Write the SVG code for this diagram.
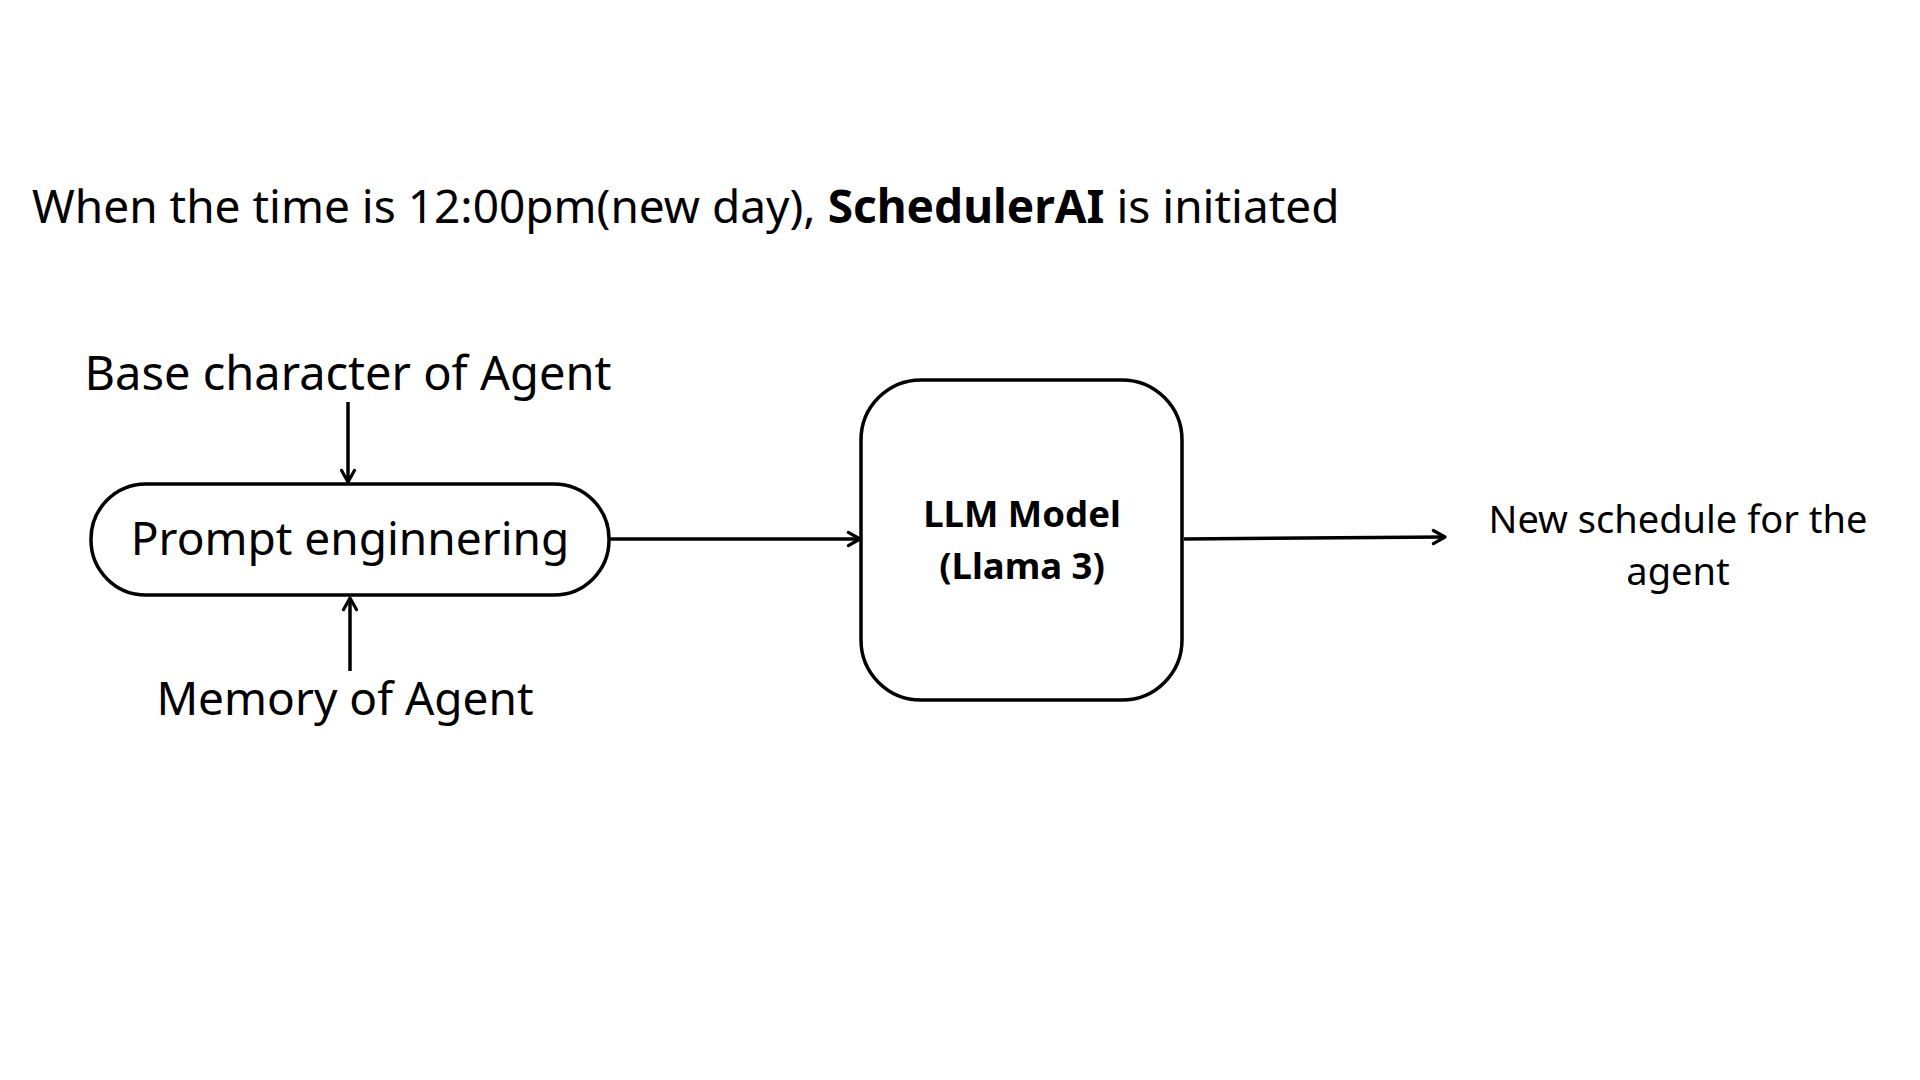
<svg xmlns="http://www.w3.org/2000/svg" width="1920" height="1080" viewBox="0 0 1920 1080">
<defs>
<style>
text{font-family:"Noto Sans","Open Sans","DejaVu Sans",sans-serif;fill:#000}
.shape{fill:#fff;stroke:#000;stroke-width:3.5}
.conn{stroke:#000;stroke-width:3.5;fill:none;marker-end:url(#arr)}
</style>
<marker id="arr" viewBox="0 0 12 12" refX="10" refY="6" markerWidth="5" markerHeight="5" orient="auto" markerUnits="strokeWidth">
<path d="M2,1.5 L10,6 L2,10.5" fill="none" stroke="#000" stroke-width="2.2" stroke-linecap="round" stroke-linejoin="round"/>
</marker>
</defs>
<rect width="1920" height="1080" fill="#fff"/>
<g id="title">
<text x="32" y="223" font-size="46">When the time is 12:00pm(new day), <tspan font-weight="bold">SchedulerAI</tspan> is initiated</text>
</g>
<g id="connectors">
<line class="conn" x1="348" y1="402" x2="348" y2="482"/>
<line class="conn" x1="350" y1="671" x2="350" y2="598"/>
<line class="conn" x1="609" y1="539" x2="860" y2="539"/>
<line class="conn" x1="1184" y1="539" x2="1445" y2="537"/>
</g>
<g id="base">
<text x="348" y="390" font-size="47" text-anchor="middle">Base character of Agent</text>
</g>
<g id="prompt">
<rect class="shape" x="91" y="484" width="518" height="111" rx="55"/>
<text x="350" y="555" font-size="46" text-anchor="middle">Prompt enginnering</text>
</g>
<g id="memory">
<text x="345" y="715" font-size="46" text-anchor="middle">Memory of Agent</text>
</g>
<g id="llm">
<rect class="shape" x="861" y="380" width="321" height="320" rx="60"/>
<text x="1022" y="527" font-size="36.5" font-weight="bold" text-anchor="middle">LLM Model</text>
<text x="1022" y="579" font-size="36.5" font-weight="bold" text-anchor="middle">(Llama 3)</text>
</g>
<g id="output">
<text x="1678" y="533" font-size="38" text-anchor="middle">New schedule for the</text>
<text x="1678" y="585" font-size="38" text-anchor="middle">agent</text>
</g>
</svg>
